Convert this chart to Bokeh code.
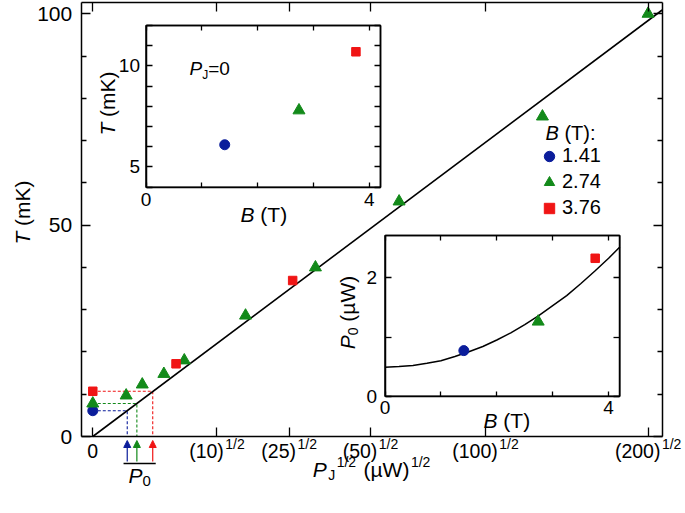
import math
from bokeh.plotting import figure
from bokeh.models import (Range1d, LinearAxis, FixedTicker, Label, Arrow, NormalHead,
                          Legend, LegendItem, CustomJSTickFormatter)
from bokeh.embed import file_html
from bokeh.resources import INLINE

# ---------------- data ----------------
B_LABELS = ["1.41", "2.74", "3.76"]
B_FIELD = [1.41, 2.74, 3.76]            # T
T_AT_PJ0 = [6.1, 7.8, 10.7]              # mK, inset 1
P0_UW = [0.77, 1.26, 2.33]               # µW, inset 2

SQRT_PJ_141 = [0.0]
T_141 = [6.1]
SQRT_PJ_274 = [0.0, 0.85, 1.26, 1.81, 2.33, 3.89, 5.67, 7.80, 11.45, 14.14]
T_274 = [7.8, 9.7, 12.3, 14.8, 18.0, 28.6, 40.0, 55.6, 75.7, 100.0]
SQRT_PJ_376 = [0.0, 2.12, 5.09]
T_376 = [10.7, 17.2, 36.9]

FIT_SQRT_PJ = [0.0, 14.5]
FIT_T = [0.0, 100.9]

CURVE_B = [0.0, 0.25, 0.5, 0.75, 1.0, 1.25, 1.5, 1.75, 2.0, 2.25, 2.5, 2.75,
           3.0, 3.25, 3.5, 3.75, 4.0, 4.2]
CURVE_P0 = [0.49, 0.50, 0.52, 0.555, 0.60, 0.67, 0.75, 0.84, 0.95, 1.07, 1.21, 1.36,
            1.53, 1.70, 1.90, 2.11, 2.33, 2.52]

X_TICK_PJ = [0, 10, 25, 50, 100, 200]
X_TICK_BASE = ["0", "(10)", "(25)", "(50)", "(100)", "(200)"]
Y_TICKS = [0, 50, 100]
Y_MINOR = [10, 20, 30, 40, 60, 70, 80, 90]

# ---------------- style / geometry ----------------
FONT = "Liberation Sans"
COLORS = ["#0b1d9b", "#138a1a", "#f01515"]
W, H = 684, 512
# visible main box (pixels on the canvas) and its data limits
FL, FR, FT, FB = 80.7, 661.7, 2.0, 436.0
X0, X1 = -0.295, 14.5
SX = (FR - FL) / (X1 - X0)
SY = 4.227
Y0 = 0.0
Y1 = Y0 + (FB - FT) / SY
# whole canvas is the plotting frame
XS, XE = X0 - FL / SX, X0 + (W - FL) / SX
YS, YE = Y0 - (H - FB) / SY, Y0 + FB / SY

p = figure(width=W, height=H, output_backend="svg", toolbar_location=None,
           x_range=Range1d(XS, XE), y_range=Range1d(YS, YE),
           x_axis_type=None, y_axis_type=None,
           min_border_left=0, min_border_right=0, min_border_top=0, min_border_bottom=0)
p.outline_line_color = None
p.background_fill_color = "white"
p.border_fill_color = "white"


def to_dx(px):
    return XS + px / SX


def to_dy(py):
    return YE - py / SY


def page_x(xd):
    return (xd - XS) * SX


AW = {'P': .667, 'J': .5, 'T': .611, 'B': .667, ' ': .278, '(': .333, ')': .333,
      'm': .833, 'K': .667, 'µ': .576, 'W': .944, '/': .278, ':': .278, '=': .584,
      '.': .278}


def tw(text, size):
    return sum(AW.get(c, .556) for c in text) * size


def add_text(pieces, px, py, angle=0.0, gap=0.0):
    pos = 0.0
    for text, size, italic, rise in pieces:
        lead = len(text) - len(text.lstrip(" "))
        pos += tw(" " * lead, size)
        text = text.lstrip(" ")
        if angle == 0:
            x, y = px + pos, py - rise
        else:
            x, y = px - rise, py - pos
        p.add_layout(Label(x=to_dx(x), y=to_dy(y), text=text, angle=angle,
                           text_font=FONT, text_font_size=f"{size}px",
                           text_font_style="italic" if italic else "normal",
                           text_align="left", text_baseline="alphabetic",
                           text_color="black"))
        pos += tw(text, size) + gap


def total_w(pieces, gap=0.0):
    return sum(tw(t, s) for t, s, _, _ in pieces) + gap * (len(pieces) - 1)


empty = CustomJSTickFormatter(code="return '';")


def style_axis(ax, tick_in, minor_in, font_px=None, standoff=6):
    ax.major_tick_in = tick_in
    ax.major_tick_out = 0
    ax.minor_tick_in = minor_in
    ax.minor_tick_out = 0
    ax.axis_line_width = 1.5
    ax.major_tick_line_width = 1.3
    ax.minor_tick_line_width = 1.3
    ax.major_label_standoff = standoff
    if font_px is None:
        ax.formatter = empty
        ax.major_label_text_font_size = "1px"
    else:
        ax.major_label_text_font = FONT
        ax.major_label_text_font_size = f"{font_px}px"
        ax.major_label_text_color = "black"


# ---------------- main axes (drawn at the box edges) ----------------
x_ticker = FixedTicker(ticks=[math.sqrt(t) for t in X_TICK_PJ], minor_ticks=[])
y_ticker = FixedTicker(ticks=Y_TICKS, minor_ticks=Y_MINOR)

a = LinearAxis(ticker=x_ticker, fixed_location=Y0, bounds=(X0, X1))
style_axis(a, 9, 0)
p.add_layout(a, "below")
a = LinearAxis(ticker=x_ticker, fixed_location=Y1, bounds=(X0, X1))
style_axis(a, 9, 0)
p.add_layout(a, "above")
a = LinearAxis(ticker=y_ticker, fixed_location=X0, bounds=(Y0, Y1))
style_axis(a, 9, 5, font_px=21, standoff=9)
p.add_layout(a, "left")
a = LinearAxis(ticker=y_ticker, fixed_location=X1, bounds=(Y0, Y1))
style_axis(a, 9, 5)
p.add_layout(a, "right")

# ---------------- main plot content ----------------
x0s = [math.sqrt(v) for v in P0_UW]
for c, t0, x0 in zip(COLORS, T_AT_PJ0, x0s):
    p.line([0, x0, x0], [t0, t0, 0], line_color=c, line_width=1.1, line_dash="3 2")

p.line(FIT_SQRT_PJ, FIT_T, line_color="black", line_width=1.6)

r_blue = p.scatter(SQRT_PJ_141, T_141, marker="circle", size=10,
                   fill_color=COLORS[0], line_color=COLORS[0])
r_green = p.scatter(SQRT_PJ_274, T_274, marker="triangle", size=12,
                    fill_color=COLORS[1], line_color=COLORS[1])
r_red = p.scatter(SQRT_PJ_376, T_376, marker="square", size=8.5,
                  fill_color=COLORS[2], line_color=COLORS[2])

# arrows marking P0 below the axis
for c, x0 in zip(COLORS, x0s):
    p.add_layout(Arrow(start=None,
                       end=NormalHead(size=7, fill_color=c, line_color=c, line_width=1),
                       x_start=x0, y_start=to_dy(461), x_end=x0, y_end=to_dy(440),
                       line_color=c, line_width=1.2))
p.add_layout(Arrow(start=None, end=None,
                   x_start=x0s[0] - 3.7 / SX, y_start=to_dy(463),
                   x_end=x0s[-1] + 3.0 / SX, y_end=to_dy(463),
                   line_color="black", line_width=1.3))
add_text([("P", 21, True, 0), ("0", 15, False, -5)], 128, 475)

# x tick labels  (value)^{1/2}
for t, base in zip(X_TICK_PJ, X_TICK_BASE):
    cx = page_x(math.sqrt(t))
    if base == "0":
        pieces = [(base, 19.5, False, 0)]
    else:
        pieces = [(base, 19.5, False, 0), ("1/2", 14, False, 7)]
    tot = total_w(pieces, 1.5)
    add_text(pieces, cx - tot / 2, 450, gap=1.5)

# axis titles
xt_pieces = [("P", 21, True, 0), ("J", 14, False, -5), ("1/2", 14, False, 8),
             (" (µW)", 21, False, 0), ("1/2", 14, False, 8)]
add_text(xt_pieces, 371 - (total_w(xt_pieces) + 6) / 2, 469, gap=1.5)
yt_pieces = [("T", 21, True, 0), (" (mK)", 21, False, 0)]
add_text(yt_pieces, 21.5, 212 + total_w(yt_pieces) / 2, angle=math.pi / 2)

# ---------------- legend ----------------
legend = Legend(items=[LegendItem(label=B_LABELS[0], renderers=[r_blue]),
                       LegendItem(label=B_LABELS[1], renderers=[r_green]),
                       LegendItem(label=B_LABELS[2], renderers=[r_red])],
                location=(536, H - 220.5), glyph_width=26, glyph_height=26,
                spacing=-2, padding=0, margin=0, label_standoff=0,
                border_line_color=None, background_fill_alpha=0,
                label_text_font=FONT, label_text_font_size="20px",
                label_text_color="black")
p.add_layout(legend)
add_text([("B", 20, True, 0), (" (T):", 20, False, 0)], 545, 132)

# ---------------- insets ----------------
INSETS = [
    dict(name="i1", L=145.5, R=380.0, T=25.0, B=186.7, x=(0.0, 4.2), y=(4.0, 12.0),
         xt=([0, 4], [1, 2, 3]), yt=([5, 10], [4, 6, 7, 8, 9, 11, 12]),
         xs=6, ys=6),
    dict(name="i2", L=384.5, R=619.3, T=235.0, B=395.7, x=(0.0, 4.2), y=(0.0, 2.715),
         xt=([0, 4], [1, 2, 3]), yt=([0, 2], [1]),
         xs=5, ys=8),
]
for ins in INSETS:
    sx = (ins["R"] - ins["L"]) / (ins["x"][1] - ins["x"][0])
    sy = (ins["B"] - ins["T"]) / (ins["y"][1] - ins["y"][0])
    p.extra_x_ranges[ins["name"] + "x"] = Range1d(ins["x"][0] - ins["L"] / sx,
                                                 ins["x"][0] + (W - ins["L"]) / sx)
    p.extra_y_ranges[ins["name"] + "y"] = Range1d(ins["y"][0] - (H - ins["B"]) / sy,
                                                 ins["y"][0] + ins["B"] / sy)

kw1 = dict(x_range_name="i1x", y_range_name="i1y")
kw2 = dict(x_range_name="i2x", y_range_name="i2y")

for ins, kw in zip(INSETS, [kw1, kw2]):
    (x0, x1), (y0, y1) = ins["x"], ins["y"]
    p.quad(left=[x0], right=[x1], bottom=[y0], top=[y1], fill_color="white",
           line_color="black", line_width=1.5, **kw)

# inset 1 points: T at P_J = 0 vs B
p.scatter([B_FIELD[0]], [T_AT_PJ0[0]], marker="circle", size=10,
          fill_color=COLORS[0], line_color=COLORS[0], **kw1)
p.scatter([B_FIELD[1]], [T_AT_PJ0[1]], marker="triangle", size=12,
          fill_color=COLORS[1], line_color=COLORS[1], **kw1)
p.scatter([B_FIELD[2]], [T_AT_PJ0[2]], marker="square", size=8.5,
          fill_color=COLORS[2], line_color=COLORS[2], **kw1)

# inset 2: P0 vs B with curve
p.line(CURVE_B, CURVE_P0, line_color="black", line_width=1.5, **kw2)
p.scatter([B_FIELD[0]], [P0_UW[0]], marker="circle", size=10,
          fill_color=COLORS[0], line_color=COLORS[0], **kw2)
p.scatter([B_FIELD[1]], [P0_UW[1]], marker="triangle", size=12,
          fill_color=COLORS[1], line_color=COLORS[1], **kw2)
p.scatter([B_FIELD[2]], [P0_UW[2]], marker="square", size=8.5,
          fill_color=COLORS[2], line_color=COLORS[2], **kw2)

for ins, kw in zip(INSETS, [kw1, kw2]):
    (x0, x1), (y0, y1) = ins["x"], ins["y"]
    xtk = FixedTicker(ticks=ins["xt"][0], minor_ticks=ins["xt"][1])
    ytk = FixedTicker(ticks=ins["yt"][0], minor_ticks=ins["yt"][1])
    a = LinearAxis(ticker=xtk, fixed_location=y0, bounds=(x0, x1), **kw)
    style_axis(a, 5, 5, font_px=19, standoff=ins["xs"])
    p.add_layout(a, "below")
    a = LinearAxis(ticker=xtk, fixed_location=y1, bounds=(x0, x1), **kw)
    style_axis(a, 5, 5)
    p.add_layout(a, "above")
    a = LinearAxis(ticker=ytk, fixed_location=x0, bounds=(y0, y1), **kw)
    style_axis(a, 6, 6, font_px=19, standoff=ins["ys"])
    p.add_layout(a, "left")
    a = LinearAxis(ticker=ytk, fixed_location=x1, bounds=(y0, y1), **kw)
    style_axis(a, 6, 6)
    p.add_layout(a, "right")

# inset texts
add_text([("P", 19, True, 0), ("J", 12, False, -6), ("=0", 19, False, 0)], 189, 68)
add_text([("B", 21, True, 0), (" (T)", 21, False, 0)], 240, 214)
i1y = [("T", 21, True, 0), (" (mK)", 21, False, 0)]
add_text(i1y, 107, 103 + total_w(i1y) / 2, angle=math.pi / 2)
add_text([("B", 21, True, 0), (" (T)", 21, False, 0)], 483, 420)
i2y = [("P", 21, True, 0), ("0", 14, False, -5), (" (µW)", 21, False, 0)]
add_text(i2y, 347, 312 + total_w(i2y) / 2, angle=math.pi / 2)

open("out.html", "w").write(file_html(p, INLINE))
